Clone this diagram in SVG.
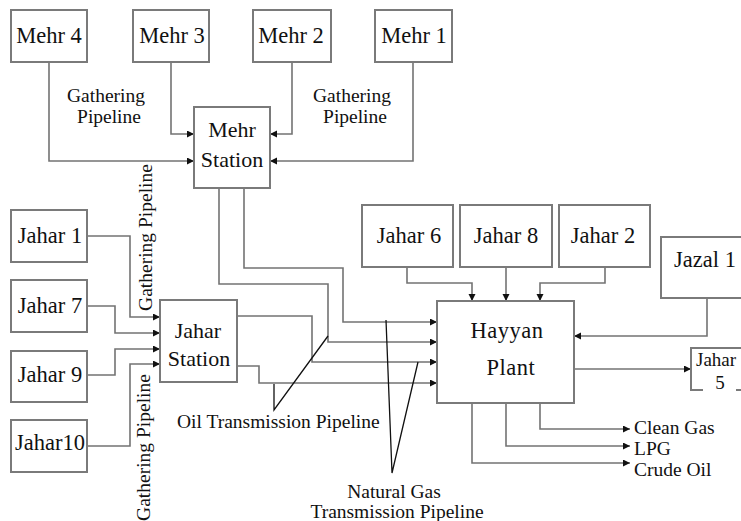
<svg xmlns="http://www.w3.org/2000/svg" width="741" height="521" viewBox="0 0 741 521">
<style>
.box{fill:#fff;stroke:#7a7a7a;stroke-width:2}
.lbl{font-family:"Liberation Serif",serif;font-size:22.5px;fill:#111;text-anchor:middle}
.txt{font-family:"Liberation Serif",serif;font-size:19.5px;fill:#111}
.mid{text-anchor:middle}
.ln{fill:none;stroke:#737373;stroke-width:1.6;marker-end:url(#ah)}
.pl{fill:none;stroke:#737373;stroke-width:1.6}
.ld{fill:none;stroke:#111;stroke-width:1.3}
</style>
<defs>
<marker id="ah" markerWidth="8" markerHeight="8" refX="7" refY="3.5" orient="auto" markerUnits="userSpaceOnUse">
<path d="M0,0 L7,3.5 L0,7 Z" fill="#111"/>
</marker>
</defs>
<rect width="741" height="521" fill="#fff"/>
<g id="connectors">
<polyline class="ln" points="49,62 49,161 194,161"/>
<polyline class="ln" points="171,62 171,134 194,134"/>
<polyline class="ln" points="292,62 292,134 270,134"/>
<polyline class="ln" points="413,62 413,161 270,161"/>
<polyline class="ln" points="87,236 130,236 130,317 160,317"/>
<polyline class="ln" points="87,306 115,306 115,333 160,333"/>
<polyline class="ln" points="87,375 115,375 115,349 160,349"/>
<polyline class="ln" points="87,446 130,446 130,364 160,364"/>
<polyline class="ln" points="244,188 244,268 343,268 343,322 437,322"/>
<polyline class="ln" points="219,188 219,284 328,284 328,342 437,342"/>
<polyline class="ln" points="237,316 312,316 312,362 437,362"/>
<polyline class="ln" points="237,366 259,366 259,383 437,383"/>
<polyline class="ln" points="407,267 407,283 472,283 472,301"/>
<polyline class="ln" points="506,267 506,301"/>
<polyline class="ln" points="605,267 605,283 540,283 540,301"/>
<polyline class="ln" points="707,298 707,336 574,336"/>
<polyline class="ln" points="574,369 691,369"/>
<polyline class="ln" points="540,403 540,429 630,429"/>
<polyline class="ln" points="506,403 506,446 630,446"/>
<polyline class="ln" points="472,403 472,463 630,463"/>
<polyline class="ld" points="274,384 274,410 328,336"/>
<polyline class="ld" points="386,320 392,473 418,362"/>
</g>
<g id="mehr4"><rect class="box" x="11" y="10" width="76" height="52"/><text class="lbl" x="49" y="43">Mehr 4</text></g>
<g id="mehr3"><rect class="box" x="133" y="10" width="76" height="52"/><text class="lbl" x="172" y="43">Mehr 3</text></g>
<g id="mehr2"><rect class="box" x="253" y="10" width="78" height="52"/><text class="lbl" x="291" y="43">Mehr 2</text></g>
<g id="mehr1"><rect class="box" x="375" y="10" width="77" height="52"/><text class="lbl" x="414" y="43">Mehr 1</text></g>
<g id="mehrStation"><rect class="box" x="194" y="107" width="76" height="81"/><text class="lbl" x="232" y="137" style="font-size:22px">Mehr</text><text class="lbl" x="232" y="167" style="font-size:22px">Station</text></g>
<g id="jahar1"><rect class="box" x="11" y="210" width="76" height="52"/><text class="lbl" x="50" y="243">Jahar 1</text></g>
<g id="jahar7"><rect class="box" x="11" y="280" width="76" height="52"/><text class="lbl" x="50" y="313">Jahar 7</text></g>
<g id="jahar9"><rect class="box" x="11" y="351" width="76" height="51"/><text class="lbl" x="50" y="382">Jahar 9</text></g>
<g id="jahar10"><rect class="box" x="11" y="420" width="76" height="52"/><text class="lbl" x="50" y="450">Jahar10</text></g>
<g id="jaharStation"><rect class="box" x="160" y="300" width="77" height="82"/><text class="lbl" x="198" y="338" style="font-size:22px">Jahar</text><text class="lbl" x="199" y="366" style="font-size:22px">Station</text></g>
<g id="jahar6"><rect class="box" x="362" y="205" width="91" height="62"/><text class="lbl" x="409" y="243">Jahar 6</text></g>
<g id="jahar8"><rect class="box" x="460" y="205" width="92" height="62"/><text class="lbl" x="506" y="243">Jahar 8</text></g>
<g id="jahar2"><rect class="box" x="559" y="205" width="91" height="62"/><text class="lbl" x="603" y="243">Jahar 2</text></g>
<g id="jazal1"><rect class="box" x="661" y="237" width="95" height="61"/><text class="lbl" x="705" y="267">Jazal 1</text></g>
<g id="hayyan"><rect class="box" x="437" y="301" width="137" height="102"/><text class="lbl" x="507" y="338" style="letter-spacing:0.5px">Hayyan</text><text class="lbl" x="511" y="375" style="letter-spacing:0.5px">Plant</text></g>
<g id="jahar5"><path d="M703,390 H691 V348 H745" fill="none" stroke="#7a7a7a" stroke-width="2"/><path d="M736,390 H745" fill="none" stroke="#7a7a7a" stroke-width="2"/><text class="lbl" x="696" y="366" style="text-anchor:start;font-size:19px">Jahar</text><text class="lbl" x="720" y="389" style="font-size:19px">5</text></g>
<g id="labels">
<text class="txt mid" x="106" y="102">Gathering</text>
<text class="txt mid" x="109" y="123">Pipeline</text>
<text class="txt mid" x="352" y="102">Gathering</text>
<text class="txt mid" x="355" y="123">Pipeline</text>
<text class="txt mid" transform="translate(152,237.5) rotate(-90)">Gathering Pipeline</text>
<text class="txt mid" transform="translate(150,447.5) rotate(-90)">Gathering Pipeline</text>
<text class="txt" x="177" y="428">Oil Transmission Pipeline</text>
<text class="txt mid" x="394" y="498">Natural Gas</text>
<text class="txt mid" x="397" y="518">Transmission Pipeline</text>
<text class="txt" x="634" y="434">Clean Gas</text>
<text class="txt" x="634" y="455">LPG</text>
<text class="txt" x="634" y="476">Crude Oil</text>
</g>
</svg>
